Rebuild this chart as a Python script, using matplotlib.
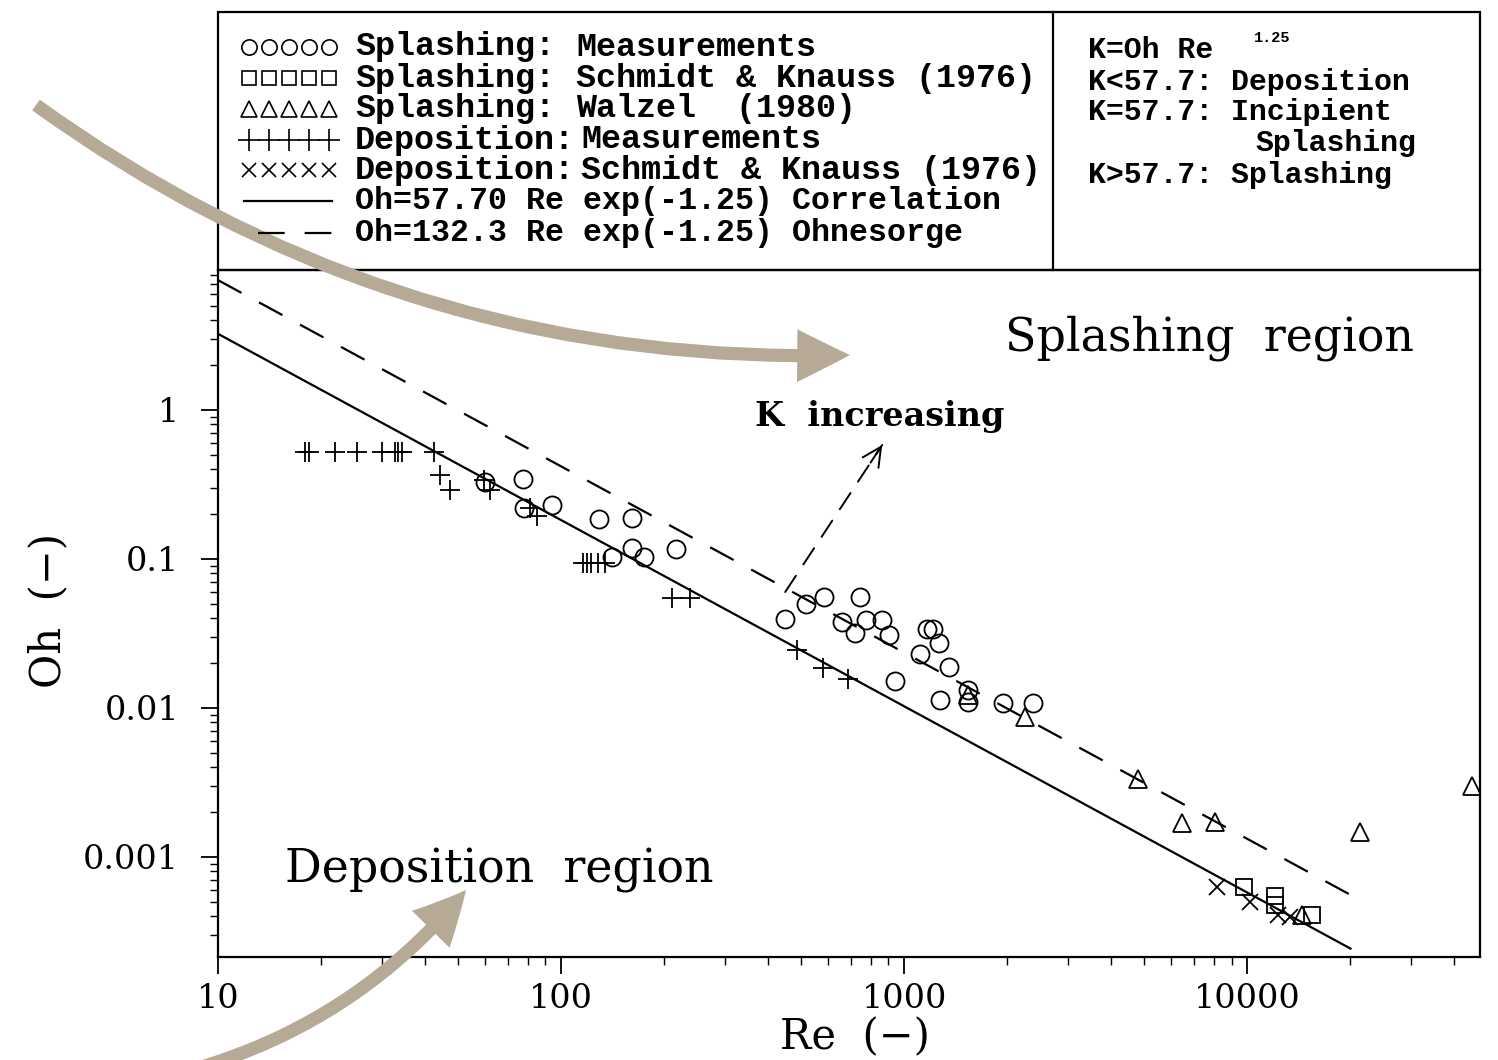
import numpy as np
import matplotlib.pyplot as plt
from matplotlib.patches import FancyArrowPatch, Rectangle
from matplotlib.ticker import LogLocator, NullFormatter

plt.rcParams['font.family'] = ['DejaVu Serif']

W, H = 1498, 1060

# splashing, own measurements (circles)
spl_meas_re = [60.0, 77.5, 78.0, 94.1, 129, 161, 141, 161, 175, 216,
               450, 518, 585, 745, 659, 720, 775, 863, 904, 942,
               1113, 1167, 1216, 1265, 1353, 1273, 1537, 1537, 1944, 2377]
spl_meas_oh = [0.329, 0.344, 0.220, 0.230, 0.185, 0.188, 0.103, 0.119, 0.103, 0.117,
               0.0396, 0.0499, 0.0556, 0.0556, 0.0378, 0.0319, 0.0390, 0.0390, 0.0309, 0.0152,
               0.0230, 0.0339, 0.0339, 0.0273, 0.0188, 0.0113, 0.0132, 0.0110, 0.0108, 0.0108]

# splashing, Schmidt & Knauss (squares)
spl_sk_re = [9800, 12070, 12070, 15480]
spl_sk_oh = [0.000629, 0.000547, 0.000476, 0.000408]

# splashing, Walzel (triangles)
spl_wal_re = [1537, 2254, 4810, 6460, 8070, 21350, 45300, 14460]
spl_wal_oh = [0.0122, 0.00871, 0.00334, 0.00169, 0.00172, 0.00147, 0.00300, 0.000408]

# deposition, own measurements (plus)
dep_meas_re = [17.9, 18.4, 21.9, 25.4, 30.1, 32.8, 33.5, 34.4, 42.6, 44.4,
               47.5, 59.7, 62.1, 81.2, 85.1, 116, 119, 122, 128, 134,
               211, 238, 488, 580, 687]
dep_meas_oh = [0.523, 0.523, 0.523, 0.523, 0.523, 0.523, 0.523, 0.523, 0.523, 0.366,
               0.290, 0.339, 0.290, 0.220, 0.194, 0.094, 0.094, 0.094, 0.094, 0.094,
               0.0547, 0.0547, 0.0245, 0.0186, 0.0157]

# deposition, Schmidt & Knauss (x)
dep_sk_re = [8180, 10200, 12310, 13340]
dep_sk_oh = [0.000629, 0.000499, 0.000408, 0.000396]

# correlation lines Oh = K * Re^-1.25
line_re = np.array([10, 20000])
k_corr = 57.7
k_ohn = 132.3
expo = -1.25

fig = plt.figure(figsize=(W / 100, H / 100), dpi=100)
ax = fig.add_axes([218 / W, (H - 957) / H, 1262 / W, 687 / H])
ax.set_xscale('log')
ax.set_yscale('log')

mk = dict(ls='none', color='k', mfc='none', mew=1.3)
ax.plot(spl_meas_re, spl_meas_oh, marker='o', ms=13, **mk)
ax.plot(spl_sk_re, spl_sk_oh, marker='s', ms=11, **mk)
ax.plot(spl_wal_re, spl_wal_oh, marker='^', ms=13, **mk)
ax.plot(dep_meas_re, dep_meas_oh, marker='+', ms=14, **mk)
ax.plot(dep_sk_re, dep_sk_oh, marker='x', ms=11, **mk)

ax.plot(line_re, k_corr * line_re ** expo, color='k', lw=1.6)
ax.plot(line_re, k_ohn * line_re ** expo, color='k', lw=1.6, dashes=(12, 9))

ax.set_xlim(10, 47700)
ax.set_ylim(2.13e-4, 8.7)
ax.set_xticks([10, 100, 1000, 10000])
ax.set_xticklabels(['10', '100', '1000', '10000'])
ax.set_yticks([0.001, 0.01, 0.1, 1])
ax.set_yticklabels(['0.001', '0.01', '0.1', '1'])
for axis in (ax.xaxis, ax.yaxis):
    axis.set_minor_locator(LogLocator(base=10, subs=np.arange(2, 10)))
    axis.set_minor_formatter(NullFormatter())
ax.tick_params(which='major', direction='out', length=12, width=1.3, labelsize=24)
ax.tick_params(which='minor', direction='out', length=6, width=1.0)
ax.tick_params(axis='x', pad=7)
ax.tick_params(axis='y', pad=16)
for s in ax.spines.values():
    s.set_linewidth(1.6)

ax.set_xlabel('Re  (\u2212)', fontsize=30)
ax.xaxis.set_label_coords(0.505, -0.087)
ax.set_ylabel('Oh  (\u2212)', fontsize=30)
ax.yaxis.set_label_coords(-0.118, 0.505)

ax.text(1968, 3.04, 'Splashing  region', fontsize=33, va='center', ha='left')
ax.text(15.7, 8.18e-4, 'Deposition  region', fontsize=33, va='center', ha='left')
ax.text(368, 0.898, 'K  increasing', fontsize=24, va='center', ha='left',
        fontweight='bold')

# dashed pointer with a solid open head
k_from = np.array([450, 0.060])
k_to = np.array([863, 0.582])
k_near = 10 ** (np.log10(k_from) + 0.88 * (np.log10(k_to) - np.log10(k_from)))
ax.annotate('', xy=k_to, xytext=k_from,
            arrowprops=dict(arrowstyle='-', lw=1.4, ls=(0, (10, 7)), color='k',
                            shrinkA=0, shrinkB=0))
ax.annotate('', xy=k_to, xytext=k_near,
            arrowprops=dict(arrowstyle='->', lw=1.4, color='k',
                            mutation_scale=34, shrinkA=0, shrinkB=0))

# overlay in figure pixels: legend box and the brown arrows
ov = fig.add_axes([0, 0, 1, 1], zorder=10)
ov.set_xlim(0, W)
ov.set_ylim(H, 0)
ov.set_axis_off()

ov.add_patch(Rectangle((218, 12), 1262, 258, fill=False, lw=1.6, ec='k'))
ov.plot([1053, 1053], [12, 270], color='k', lw=1.6)

mono = dict(family='Liberation Mono', fontsize=24, fontweight='bold',
            va='center', ha='left')
rows_y = [47, 78, 109, 140, 170, 201, 233]
col1 = ['Splashing:', 'Splashing:', 'Splashing:', 'Deposition:', 'Deposition:']
col2 = ['Measurements', 'Schmidt & Knauss (1976)', 'Walzel  (1980)',
        'Measurements', 'Schmidt & Knauss (1976)']
col2_x = [576, 576, 576, 581, 581]
for y, a, b, bx in zip(rows_y, col1, col2, col2_x):
    ov.text(355, y, a, **mono)
    ov.text(bx, y, b, **mono)
mono_s = dict(mono, fontsize=22.8)
ov.text(355, rows_y[5], 'Oh=57.70 Re exp(-1.25) Correlation', **mono_s)
ov.text(355, rows_y[6], 'Oh=132.3 Re exp(-1.25) Ohnesorge', **mono_s)

sx = np.arange(249, 335, 20)
lg = dict(ls='none', color='k', mfc='none', mew=1.2)
ov.plot(sx, np.full(5, rows_y[0]), marker='o', ms=11, **lg)
ov.plot(sx, np.full(5, rows_y[1]), marker='s', ms=10, **lg)
ov.plot(sx, np.full(5, rows_y[2]), marker='^', ms=11, **lg)
ov.plot(sx, np.full(5, rows_y[3]), marker='+', ms=16, **lg)
ov.plot(sx, np.full(5, rows_y[4]), marker='x', ms=10, **lg)
ov.plot([244, 332], [rows_y[5]] * 2, color='k', lw=1.6)
ov.plot([258, 332], [rows_y[6]] * 2, color='k', lw=1.6, dashes=(12, 9))

mono_r = dict(mono, fontsize=21.5)
ov.text(1088, 50, 'K=Oh Re', **mono_r)
ov.text(1254, 38, '1.25', family='Liberation Mono', fontsize=11,
        fontweight='bold', va='center', ha='left')
ov.text(1088, 82, 'K<57.7: Deposition', **mono_r)
ov.text(1088, 112, 'K=57.7: Incipient', **mono_r)
ov.text(1255, 143, 'Splashing', **mono_r)
ov.text(1088, 175, 'K>57.7: Splashing', **mono_r)

brown = '#b6aa96'
astyle = 'simple,head_length=1.0,head_width=1.0,tail_width=0.25'
ov.add_patch(FancyArrowPatch((36, 105), (850, 355), arrowstyle=astyle,
                             connectionstyle='arc3,rad=0.17', mutation_scale=38,
                             color=brown, lw=0, shrinkA=0, shrinkB=0))
ov.add_patch(FancyArrowPatch((205, 1066), (466, 890), arrowstyle=astyle,
                             connectionstyle='arc3,rad=0.15', mutation_scale=38,
                             color=brown, lw=0, shrinkA=0, shrinkB=0))

fig.savefig('out.png', dpi=100)
